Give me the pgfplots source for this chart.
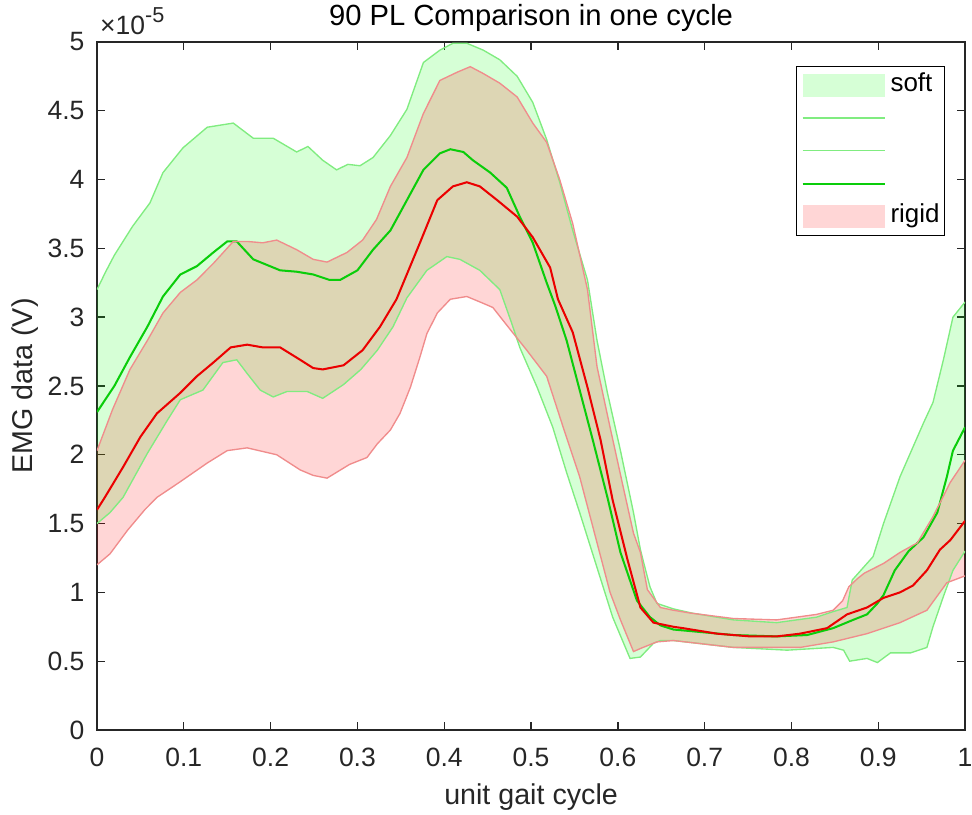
\documentclass[border=0pt]{standalone}
\usepackage{fontspec}
\setmainfont{Liberation Sans}
\usepackage{pgfplots}
\pgfplotsset{compat=1.18}
\usepgfplotslibrary{fillbetween}
\definecolor{axgray}{RGB}{38,38,38}
\definecolor{softedge}{RGB}{128,236,128}
\definecolor{softmean}{RGB}{10,205,10}
\definecolor{rigidedge}{RGB}{240,140,140}
\definecolor{rigidmean}{RGB}{235,0,0}
\pgfplotsset{
  patchleg/.style={legend image code/.code={\fill[##1, draw=none] (0pt,-4.3pt) rectangle (30.3pt,4.3pt);}},
  lineleg/.style={legend image code/.code={\draw[##1] (0pt,0pt) -- (30.3pt,0pt);}},
}
\begin{document}
\begin{tikzpicture}
\begin{axis}[
  name=ax,
  width=321.2pt, height=254.6pt, scale only axis,
  xmin=0, xmax=1, ymin=0, ymax=5,
  xtick={0,0.1,0.2,0.3,0.4,0.5,0.6,0.7,0.8,0.9,1},
  ytick={0,0.5,1,1.5,2,2.5,3,3.5,4,4.5,5},
  yticklabels={0,0.5,1,1.5,2,2.5,3,3.5,4,4.5,5},
  xticklabels={0,0.1,0.2,0.3,0.4,0.5,0.6,0.7,0.8,0.9,1},
  tick align=inside, major tick length=3pt,
  axis line style={axgray, line width=0.5pt},
  tick style={axgray, line width=0.5pt},
  tick label style={font=\fontsize{9.8}{11}\selectfont, text=axgray},
  xticklabel style={yshift=-3.2pt},
  yticklabel style={xshift=-1.1pt},
  xlabel={unit gait cycle},
  ylabel={EMG data (V)},
  xlabel style={at={(axis description cs:0.5,-0.0974)}, anchor=center, font=\fontsize{10.6}{12}\selectfont, text=axgray},
  ylabel style={at={(axis description cs:-0.0828,0.5)}, anchor=center, font=\fontsize{10.6}{12}\selectfont, text=axgray},
  title={90 PL Comparison in one cycle},
  title style={at={(axis description cs:0.5,1.035)}, anchor=center, yshift=-6pt, font=\fontsize{10.8}{12}\selectfont, text=black},
  legend style={at={(axis description cs:1,1)}, anchor=north east, xshift=-7.4pt, yshift=-8.8pt,
    draw=black, line width=0.5pt, font=\fontsize{9.6}{11}\selectfont, inner xsep=1.8pt, inner ysep=1pt,
    row sep=0pt, column sep=0pt,
    nodes={inner xsep=0pt, inner ysep=1.55pt, text height=6.9pt, text depth=2.1pt, text=black}},
  legend cell align=left,
]
% soft
\addplot[name path=SU, softedge, line width=0.5pt, forget plot] coordinates {
(0,3.20)(0.010,3.33)(0.020,3.45)(0.041,3.66)(0.061,3.83)(0.076,4.05)(0.099,4.23)(0.127,4.38)(0.157,4.41)(0.180,4.30)(0.203,4.30)(0.230,4.20)(0.243,4.24)(0.260,4.14)(0.276,4.07)(0.289,4.11)(0.303,4.10)(0.318,4.16)(0.338,4.32)(0.357,4.51)(0.376,4.85)(0.395,4.94)(0.410,4.99)(0.426,4.99)(0.445,4.94)(0.464,4.87)(0.484,4.75)(0.502,4.56)(0.518,4.29)(0.533,3.98)(0.548,3.63)(0.565,3.27)(0.576,2.83)(0.588,2.45)(0.603,2.03)(0.618,1.58)(0.626,1.31)(0.630,1.21)(0.637,1.04)(0.645,0.92)(0.664,0.88)(0.685,0.85)(0.733,0.80)(0.783,0.78)(0.829,0.82)(0.848,0.86)(0.864,0.89)(0.870,1.09)(0.894,1.26)(0.906,1.50)(0.925,1.84)(0.952,2.23)(0.963,2.38)(0.975,2.69)(0.986,3.00)(1.0,3.11)
};
\addplot[name path=SL, softedge, line width=0.5pt, forget plot] coordinates {
(0,1.50)(0.015,1.58)(0.030,1.69)(0.058,2.01)(0.081,2.25)(0.096,2.40)(0.122,2.47)(0.145,2.67)(0.161,2.69)(0.173,2.59)(0.188,2.47)(0.203,2.42)(0.219,2.46)(0.242,2.46)(0.260,2.41)(0.284,2.51)(0.304,2.62)(0.323,2.76)(0.341,2.93)(0.357,3.14)(0.380,3.34)(0.403,3.44)(0.418,3.42)(0.441,3.34)(0.464,3.20)(0.478,2.95)(0.487,2.78)(0.507,2.49)(0.525,2.20)(0.541,1.87)(0.556,1.58)(0.576,1.18)(0.594,0.82)(0.614,0.52)(0.626,0.53)(0.641,0.63)(0.649,0.65)(0.664,0.65)(0.733,0.60)(0.795,0.58)(0.848,0.60)(0.860,0.58)(0.867,0.50)(0.887,0.52)(0.899,0.49)(0.914,0.56)(0.937,0.56)(0.956,0.60)(0.963,0.75)(0.975,0.97)(0.986,1.16)(1.0,1.30)
};
\addplot[green, fill opacity=0.16, draw=none, forget plot] fill between[of=SU and SL];
\addplot[softmean, line width=0.75pt, forget plot] coordinates {
(0,2.31)(0.020,2.50)(0.038,2.71)(0.058,2.93)(0.076,3.15)(0.096,3.31)(0.115,3.37)(0.134,3.47)(0.150,3.55)(0.161,3.55)(0.180,3.42)(0.211,3.34)(0.230,3.33)(0.249,3.31)(0.268,3.27)(0.280,3.27)(0.300,3.34)(0.318,3.49)(0.338,3.63)(0.357,3.85)(0.376,4.07)(0.395,4.19)(0.407,4.22)(0.422,4.20)(0.433,4.14)(0.453,4.05)(0.472,3.94)(0.487,3.73)(0.502,3.54)(0.518,3.25)(0.528,3.08)(0.541,2.83)(0.556,2.47)(0.571,2.11)(0.588,1.69)(0.603,1.29)(0.622,0.94)(0.637,0.82)(0.649,0.76)(0.664,0.73)(0.733,0.69)(0.783,0.68)(0.818,0.69)(0.848,0.74)(0.871,0.80)(0.887,0.84)(0.899,0.92)(0.906,0.98)(0.919,1.16)(0.935,1.30)(0.952,1.40)(0.968,1.58)(0.979,1.84)(0.986,2.03)(1.0,2.20)
};
% rigid
\addplot[name path=RU, rigidedge, line width=0.5pt, forget plot] coordinates {
(0,2.03)(0.018,2.33)(0.038,2.62)(0.058,2.83)(0.076,3.03)(0.096,3.18)(0.115,3.27)(0.134,3.39)(0.157,3.55)(0.173,3.55)(0.191,3.54)(0.207,3.56)(0.230,3.49)(0.249,3.42)(0.265,3.40)(0.288,3.47)(0.306,3.56)(0.322,3.71)(0.338,3.95)(0.357,4.16)(0.376,4.48)(0.395,4.72)(0.415,4.78)(0.430,4.82)(0.445,4.77)(0.464,4.70)(0.484,4.60)(0.502,4.41)(0.518,4.27)(0.533,4.00)(0.548,3.68)(0.565,3.20)(0.576,2.64)(0.591,2.20)(0.606,1.77)(0.618,1.43)(0.626,1.29)(0.634,1.02)(0.649,0.89)(0.664,0.87)(0.683,0.85)(0.733,0.81)(0.783,0.80)(0.829,0.84)(0.848,0.87)(0.859,0.94)(0.866,1.04)(0.876,1.10)(0.884,1.14)(0.906,1.21)(0.925,1.29)(0.945,1.36)(0.963,1.55)(0.983,1.80)(1.0,1.96)
};
\addplot[name path=RL, rigidedge, line width=0.5pt, forget plot] coordinates {
(0,1.20)(0.015,1.28)(0.035,1.45)(0.055,1.60)(0.069,1.69)(0.095,1.80)(0.127,1.94)(0.150,2.03)(0.173,2.05)(0.207,2.00)(0.234,1.89)(0.249,1.85)(0.265,1.83)(0.291,1.93)(0.311,1.98)(0.323,2.08)(0.338,2.18)(0.349,2.30)(0.361,2.49)(0.372,2.71)(0.380,2.88)(0.392,3.03)(0.407,3.13)(0.426,3.15)(0.445,3.10)(0.456,3.07)(0.476,2.91)(0.495,2.76)(0.518,2.57)(0.537,2.20)(0.556,1.84)(0.571,1.48)(0.591,1.00)(0.603,0.80)(0.618,0.57)(0.629,0.60)(0.645,0.64)(0.664,0.65)(0.733,0.60)(0.810,0.60)(0.848,0.64)(0.887,0.70)(0.925,0.78)(0.956,0.87)(0.979,1.07)(1.0,1.12)
};
\addplot[red, fill opacity=0.16, draw=none, forget plot] fill between[of=RU and RL];
\addplot[rigidmean, line width=0.75pt, forget plot] coordinates {
(0,1.60)(0.009,1.69)(0.030,1.91)(0.050,2.13)(0.069,2.30)(0.096,2.45)(0.115,2.57)(0.134,2.67)(0.154,2.78)(0.173,2.80)(0.191,2.78)(0.211,2.78)(0.234,2.69)(0.249,2.63)(0.260,2.62)(0.284,2.65)(0.306,2.76)(0.326,2.93)(0.345,3.13)(0.372,3.54)(0.392,3.85)(0.410,3.95)(0.426,3.98)(0.441,3.95)(0.461,3.85)(0.484,3.73)(0.502,3.58)(0.522,3.36)(0.531,3.13)(0.548,2.89)(0.565,2.49)(0.580,2.11)(0.594,1.67)(0.611,1.24)(0.626,0.89)(0.641,0.78)(0.664,0.75)(0.675,0.74)(0.714,0.70)(0.752,0.68)(0.783,0.68)(0.810,0.70)(0.841,0.74)(0.864,0.84)(0.887,0.89)(0.906,0.96)(0.925,1.00)(0.940,1.05)(0.956,1.16)(0.971,1.31)(0.983,1.38)(1.0,1.52)
};
% legend
\addlegendimage{patchleg, fill=green, fill opacity=0.16}
\addlegendentry{\hspace{1.85pt}soft}
\addlegendimage{lineleg, softedge, line width=0.5pt}
\addlegendentry{\mbox{}}
\addlegendimage{lineleg, softedge, line width=0.5pt}
\addlegendentry{\mbox{}}
\addlegendimage{lineleg, softmean, line width=0.75pt}
\addlegendentry{\mbox{}}
\addlegendimage{patchleg, fill=red, fill opacity=0.16}
\addlegendentry{\hspace{1.85pt}rigid}
\end{axis}
\node[anchor=south west, inner sep=0pt, text=axgray, font=\fontsize{9.8}{11}\selectfont, xshift=1pt, yshift=2.6pt] at (ax.north west) {×10\raisebox{0.42em}{\fontsize{8}{9}\selectfont -5}};
\pgfresetboundingbox
\useasboundingbox (-35.89pt,-31.45pt) rectangle (323.75pt,270.1pt);
\end{tikzpicture}
\end{document}
